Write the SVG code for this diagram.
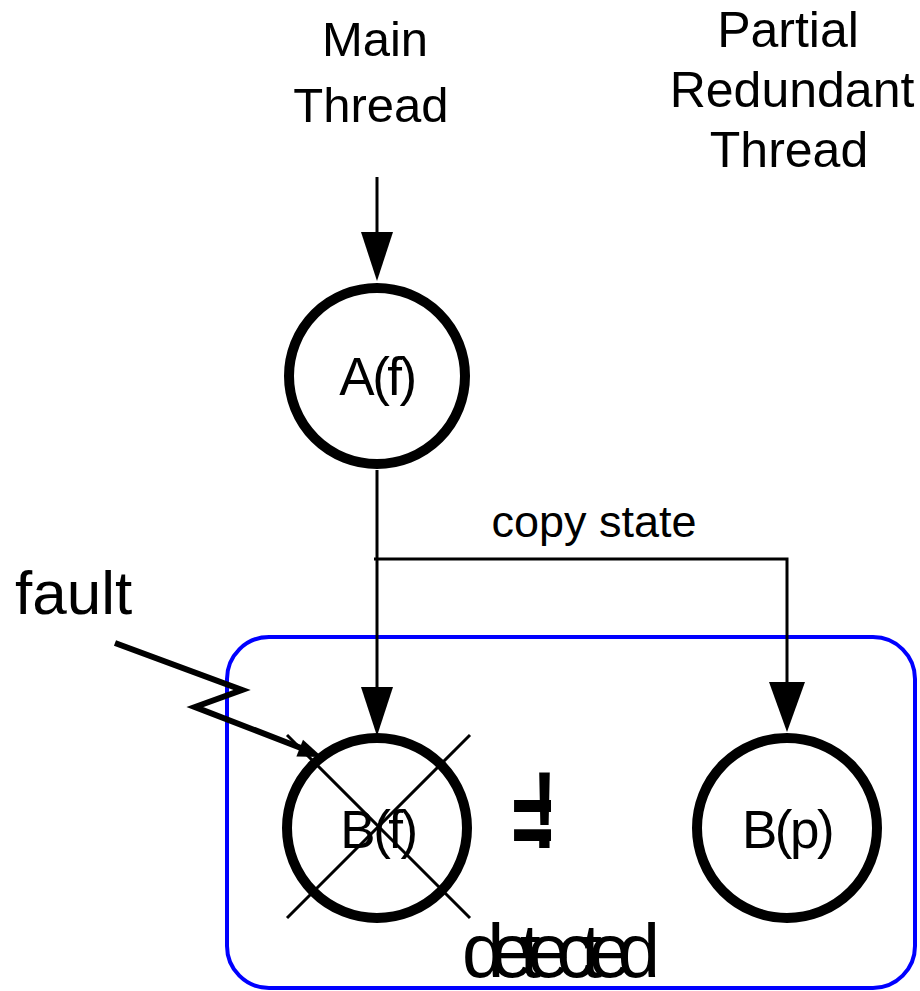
<svg xmlns="http://www.w3.org/2000/svg" width="920" height="991" viewBox="0 0 920 991">
  <style>
    text { font-family: "Liberation Sans", Arial, sans-serif; fill: #000; }
    .title { font-size: 49px; text-anchor: middle; }
    .label { font-size: 53px; text-anchor: middle; letter-spacing: -2.5px; }
    .node { fill: #fff; stroke: #000; stroke-width: 10; }
    .wire { fill: none; stroke: #000; stroke-width: 3; }
    .head { fill: #000; stroke: none; }
    .fault { fill: none; stroke: #000; stroke-width: 6; stroke-linejoin: miter; }
    .cross { stroke: #000; stroke-width: 3; }
  </style>

  <!-- white background -->
  <rect x="0" y="0" width="920" height="991" fill="#fff"/>

  <!-- thread headings -->
  <g id="heading-main">
    <text class="title" x="375" y="56">Main</text>
    <text class="title" x="371" y="122">Thread</text>
  </g>
  <g id="heading-partial">
    <text class="title" x="788" y="47" style="font-size:50px">Partial</text>
    <text class="title" x="792" y="107" style="font-size:50px">Redundant</text>
    <text class="title" x="789" y="167" style="font-size:50px">Thread</text>
  </g>

  <!-- comparison region -->
  <g id="compare-box">
    <rect x="227" y="637" width="688" height="351" rx="42" ry="42" fill="none" stroke="#0000ff" stroke-width="4"/>
  </g>

  <!-- connectors -->
  <g id="connectors">
    <line class="wire" x1="377" y1="177" x2="377" y2="234"/>
    <polygon class="head" points="361,232 393,232 377,281"/>

    <line class="wire" x1="377" y1="470" x2="377" y2="690"/>
    <polygon class="head" points="361,687 393,687 377,736"/>

    <polyline class="wire" points="374,559 787,559 787,684"/>
    <polygon class="head" points="769,682 805,682 787,732"/>
    <text x="594" y="537" style="font-size:45px; text-anchor:middle">copy state</text>

    <!-- injected fault -->
    <polyline class="fault" points="115,643 242,690 195,707 301,748"/>
    <polygon class="head" points="322,757 303,739.8 296.4,756.5"/>
  </g>

  <!-- nodes -->
  <g id="node-af">
    <circle class="node" cx="377" cy="376" r="88"/>
    <text class="label" x="377" y="395">A(f)</text>
  </g>

  <g id="node-bf">
    <circle class="node" cx="377" cy="828" r="90"/>
    <text class="label" x="378" y="848">B(f)</text>
    <line class="cross" x1="287" y1="735" x2="470" y2="918"/>
    <line class="cross" x1="287" y1="918" x2="470" y2="735"/>
  </g>

  <g id="node-bp">
    <circle class="node" cx="787" cy="828" r="90"/>
    <text class="label" x="787" y="848">B(p)</text>
  </g>

  <!-- mismatch mark -->
  <g id="not-equal">
    <text transform="scale(0.67,1)" style="font-size:110px; font-weight:bold; text-anchor:middle"><tspan x="794.8" y="857">=</tspan><tspan x="812.7" y="848">!</tspan></text>
  </g>

  <g id="fault-label">
    <text x="15" y="614" style="font-size:62px">fault</text>
  </g>

  <g id="detected-label">
    <text x="462" y="977" style="font-size:76px" textLength="198" lengthAdjust="spacing">detected</text>
  </g>
</svg>
